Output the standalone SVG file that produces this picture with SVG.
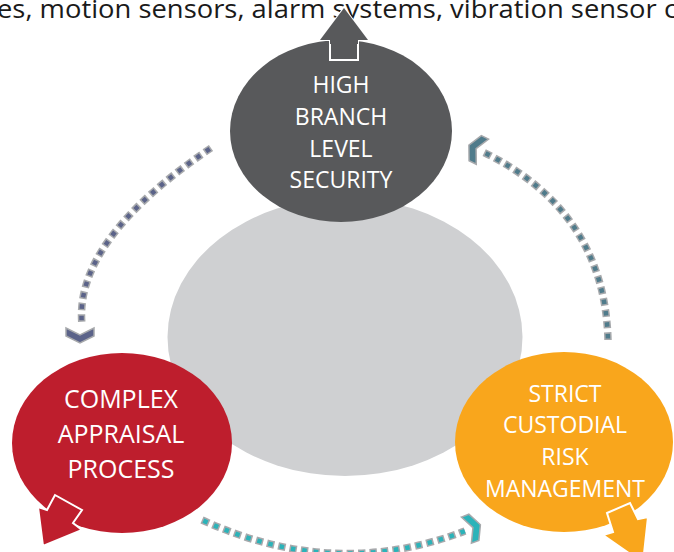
<svg xmlns="http://www.w3.org/2000/svg" width="674" height="552" viewBox="0 0 674 552">
<style>
.lbl{font-family:"Open Sans","Liberation Sans",sans-serif;fill:#ffffff;text-anchor:middle}
.s4{font-size:23px}
.s3{font-size:25px}
.top{font-family:"Open Sans","Liberation Sans",sans-serif;font-size:26px;fill:#1a1a1a}
.dotout{fill:none;stroke:#a7a9ac;stroke-width:7.5;stroke-dasharray:7.5 4}
.dotin{fill:none;stroke-width:4.5;stroke-dasharray:4.5 7;stroke-dashoffset:-1.5}
.chev{stroke:#a7a9ac;stroke-width:1.5;stroke-linejoin:miter}
</style>
<defs>
<polygon id="chev" points="-6,-14 2,-14 9,0 2,14 -6,14 1,0"/>
</defs>
<rect width="674" height="552" fill="#ffffff"/>
<text class="top" x="-3" y="18" textLength="680" lengthAdjust="spacingAndGlyphs">es, motion sensors, alarm systems, vibration sensor c</text>

<g id="center">
<ellipse cx="345" cy="337" rx="177.5" ry="139" fill="#cfd0d2"/>
</g>

<g id="node-security">
<ellipse cx="341" cy="131" rx="111" ry="91" fill="#58595b"/>
<polygon points="344,8 368,40 358,40 358,60 330,60 330,40 320,40" fill="#58595b" stroke="#ffffff" stroke-width="2"/>
<polygon points="344,8 368,40 358,40 358,44 330,44 330,40 320,40" fill="#58595b"/>
<text class="lbl s4" x="341" y="93">HIGH</text>
<text class="lbl s4" x="341" y="125">BRANCH</text>
<text class="lbl s4" x="341" y="157">LEVEL</text>
<text class="lbl s4" x="341" y="188">SECURITY</text>
</g>

<g id="node-appraisal">
<ellipse cx="122" cy="443" rx="110" ry="90" fill="#be1e2d"/>
<polygon points="55,495 82,510 73,523 82,530 43,546 38,507 47,510" fill="#be1e2d" stroke="#ffffff" stroke-width="2"/>
<text class="lbl s3" x="121" y="408">COMPLEX</text>
<text class="lbl s3" x="121" y="443">APPRAISAL</text>
<text class="lbl s3" x="121" y="478">PROCESS</text>
</g>

<g id="node-custodial">
<ellipse cx="564" cy="442" rx="109" ry="90" fill="#f9a61c"/>
<polygon points="607,513 630,503 638,519 648,517 643,563 603,535 613,532" fill="#f9a61c" stroke="#ffffff" stroke-width="2"/>
<text class="lbl s4" x="565" y="402">STRICT</text>
<text class="lbl s4" x="565" y="433">CUSTODIAL</text>
<text class="lbl s4" x="565" y="465">RISK</text>
<text class="lbl s4" x="565" y="497">MANAGEMENT</text>
</g>

<g id="connectors">
<g id="c-left">
<path class="dotout" d="M211,148 Q73.5,240.5 82,325"/>
<path class="dotin" stroke="#5b6389" d="M211,148 Q73.5,240.5 82,325"/>
<use href="#chev" class="chev" fill="#5b6389" transform="translate(80,334) rotate(90)"/>
</g>
<g id="c-right">
<path class="dotout" d="M608,340 Q604.5,211 483,152"/>
<path class="dotin" stroke="#4f7b8b" d="M608,340 Q604.5,211 483,152"/>
<use href="#chev" class="chev" fill="#4f7b8b" transform="translate(477,149) rotate(206)"/>
</g>
<g id="c-bottom">
<path class="dotout" d="M202,520 Q335,581 465,531"/>
<path class="dotin" stroke="#2bb3b9" d="M202,520 Q335,581 465,531"/>
<use href="#chev" class="chev" fill="#2bb3b9" transform="translate(472,528) rotate(-21)"/>
</g>
</g>
</svg>
